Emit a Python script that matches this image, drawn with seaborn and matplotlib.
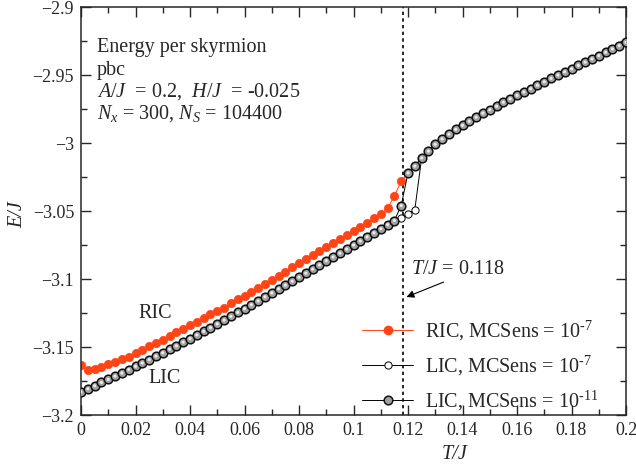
import numpy as np
import pandas as pd
import seaborn as sns
import matplotlib.pyplot as plt
from matplotlib.lines import Line2D
from matplotlib.ticker import MultipleLocator, FuncFormatter

# temperature grid (T/J), step 0.0025
T = np.round(np.arange(0, 0.2001, 0.0025), 4)

# LIC, lower branch (T = 0 ... 0.115)
lic_low = [-3.183, -3.1807, -3.1785, -3.1761, -3.1738, -3.1714, -3.1691, -3.1666, -3.1642, -3.1617,
           -3.1593, -3.1567, -3.1542, -3.1516, -3.1491, -3.1464, -3.1438, -3.1411, -3.1385, -3.1357,
           -3.1330, -3.1302, -3.1275, -3.1246, -3.1218, -3.1189, -3.1161, -3.1131, -3.1102, -3.1072,
           -3.1045, -3.1016, -3.0987, -3.0957, -3.0927, -3.0896, -3.0865, -3.0838, -3.081, -3.078,
           -3.075, -3.072, -3.069, -3.066, -3.063, -3.060, -3.057]
# upper branch (T = 0.12 ... 0.2)
lic_up = [-3.022, -3.017, -3.011, -3.006, -3.001, -2.997, -2.9935, -2.990, -2.987, -2.984,
          -2.981, -2.978, -2.9755, -2.973, -2.970, -2.9675, -2.965, -2.9625, -2.960, -2.9575,
          -2.955, -2.9525, -2.950, -2.9477, -2.9455, -2.943, -2.9406, -2.9381, -2.9357, -2.9333,
          -2.9308, -2.9284, -2.926]
lic11_jump = [-3.046]                 # T = 0.1175
lic7_jump = [-3.055, -3.052, -3.049]  # T = 0.1175 ... 0.1225

# RIC, T = 0 ... 0.1175
ric_low = [-3.163, -3.167, -3.1665, -3.165, -3.1625, -3.161, -3.159, -3.157, -3.1545, -3.152,
           -3.1495, -3.147, -3.1445, -3.142, -3.139, -3.1365, -3.134, -3.1315, -3.129, -3.126,
           -3.1235, -3.121, -3.118, -3.115, -3.1125, -3.1095, -3.1065, -3.1035, -3.1005, -3.0975,
           -3.0945, -3.0915, -3.0885, -3.0855, -3.0825, -3.0795, -3.0765, -3.0735, -3.0705, -3.0675,
           -3.0645, -3.0615, -3.0585, -3.0555, -3.0525, -3.048, -3.039, -3.028]

E_ric = ric_low + lic_up
E_lic7 = lic_low + lic7_jump + lic_up[2:]
E_lic11 = lic_low + lic11_jump + lic_up

df = pd.DataFrame({"T": T, "ric": E_ric, "lic7": E_lic7, "lic11": E_lic11})

red = "#ff4416"

sns.set_style("ticks")
plt.rcParams["font.family"] = ["Liberation Serif", "DejaVu Serif"]
plt.rcParams["mathtext.fontset"] = "custom"
plt.rcParams["mathtext.rm"] = "Liberation Serif"
plt.rcParams["mathtext.it"] = "Liberation Serif:italic"

fig = plt.figure(figsize=(6.36, 4.66), dpi=100)
ax = fig.add_axes([81 / 636, 51 / 466, 545 / 636, 408 / 466])

sns.lineplot(data=df, x="T", y="ric", ax=ax, color=red, lw=0.7, marker="o", markersize=6,
             markerfacecolor=red, markeredgecolor=red, mew=0.5, zorder=2)
sns.lineplot(data=df, x="T", y="lic7", ax=ax, color="black", lw=0.7, marker="o", markersize=5.2,
             markerfacecolor="white", markeredgecolor="black", mew=0.7, zorder=3)
sns.lineplot(data=df, x="T", y="lic11", ax=ax, color="black", lw=0.7, marker="o", markersize=6.2,
             markerfacecolor="#a0a0a0", markeredgecolor="#111111", mew=1.1, zorder=4)
# highlight on the shaded spheres
sns.scatterplot(data=df, x="T", y="lic11", ax=ax, s=5, color="#ececec", edgecolor="none",
                zorder=5, legend=False)

ax.axvline(0.118, color="black", lw=1.2, ls=(0, (2, 2)), zorder=1)

ax.set_xlim(0, 0.2)
ax.set_ylim(-3.2, -2.9)
ax.xaxis.set_major_locator(MultipleLocator(0.02))
ax.xaxis.set_minor_locator(MultipleLocator(0.01))
ax.yaxis.set_major_locator(MultipleLocator(0.05))
ax.yaxis.set_minor_locator(MultipleLocator(0.025))
fmt = FuncFormatter(lambda v, p: f"{v:g}".replace("-", "\u2212"))
ax.xaxis.set_major_formatter(fmt)
ax.yaxis.set_major_formatter(fmt)
ax.tick_params(which="both", direction="in", top=True, right=True, width=1.0, labelsize=13, pad=5)
ax.tick_params(which="major", length=7)
ax.tick_params(which="minor", length=4)
for s in ax.spines.values():
    s.set_linewidth(1.1)

fs = 14.5
ax.set_xlabel("T/J", fontsize=fs, fontstyle="italic", va="center")
ax.set_ylabel("E/J", fontsize=fs, fontstyle="italic", va="center")
ax.xaxis.set_label_coords(0.686, -0.097)
ax.yaxis.set_label_coords(-0.116, 0.49)

ax.text(0.029, 0.8897, "Energy per skyrmion", transform=ax.transAxes, fontsize=fs, va="baseline")
ax.text(0.029, 0.8333, "pbc", transform=ax.transAxes, fontsize=fs, va="baseline")
ax.text(0.029, 0.7794, r"$A/J$  = 0.2,  $H/J$  = -0.025", transform=ax.transAxes, fontsize=fs, va="baseline")
ax.text(0.029, 0.7255, r"$N_x$ = 300, $N_S$ = 104400", transform=ax.transAxes, fontsize=fs, va="baseline")

ax.text(0.0272, -3.125, "RIC", fontsize=fs, ha="center", va="center")
ax.text(0.0308, -3.1728, "LIC", fontsize=fs, ha="center", va="center")

ax.text(0.1211, -3.0963, r"$T/J$ = 0.118", fontsize=fs, va="baseline")
ax.annotate("", xy=(0.1185, -3.114), xytext=(0.134, -3.1015),
            arrowprops=dict(arrowstyle="-|>", color="black", lw=0.8, mutation_scale=11))

handles = [
    Line2D([], [], color=red, lw=0.7, marker="o", markersize=6, markerfacecolor=red, markeredgecolor=red),
    Line2D([], [], color="black", lw=0.7, marker="o", markersize=5.2, markerfacecolor="white",
           markeredgecolor="black", mew=0.7),
    Line2D([], [], color="black", lw=0.7, marker="o", markersize=6.2, markerfacecolor="#a0a0a0",
           markeredgecolor="#111111", mew=1.1),
]
labels = [r"RIC, MCSens = 10$^{\text{-7}}$", r"LIC, MCSens = 10$^{\text{-7}}$",
          r"LIC, MCSens = 10$^{\text{-11}}$"]
ax.legend(handles, labels, loc="lower left", bbox_to_anchor=(0.5156, 0.005), frameon=False,
          fontsize=fs, handlelength=2.55, handletextpad=0.6, labelspacing=0.55,
          borderpad=0, borderaxespad=0)

fig.savefig("out.png", dpi=100)
